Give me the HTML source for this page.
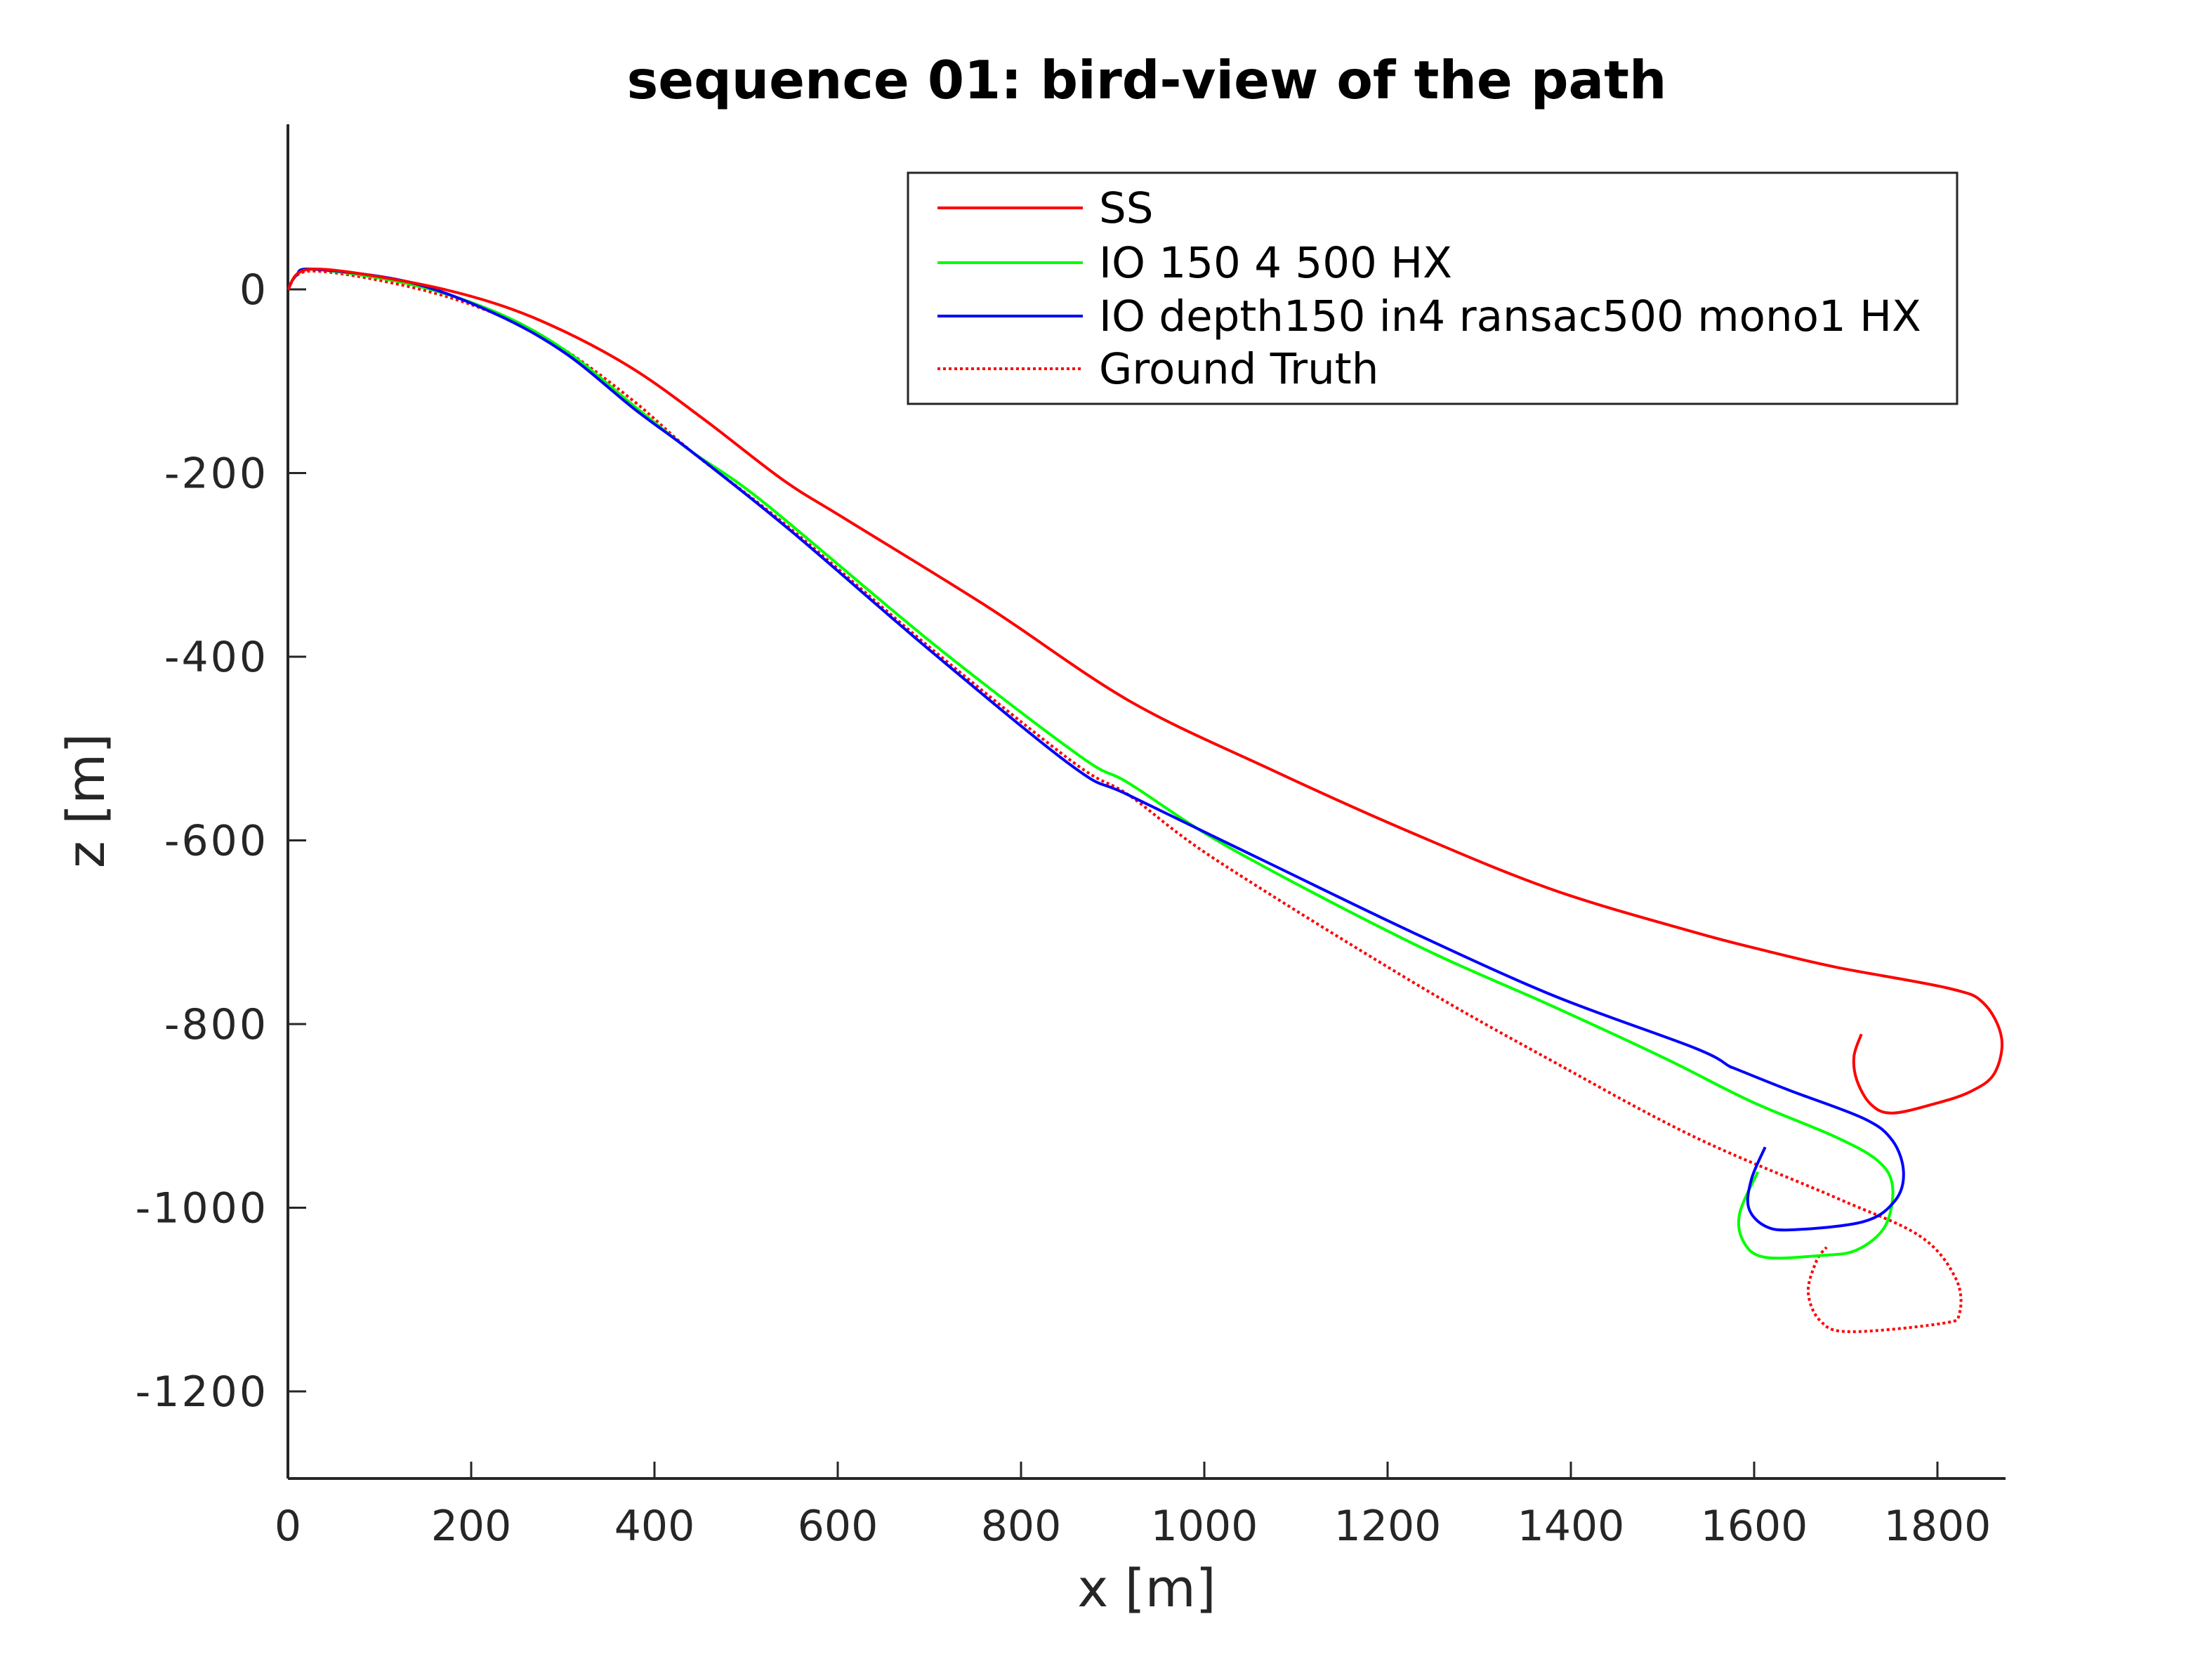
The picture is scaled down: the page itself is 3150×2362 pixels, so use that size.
<!DOCTYPE html>
<html><head><meta charset="utf-8"><style>
html,body{margin:0;padding:0;background:#fff;}
svg{display:block;font-family:"DejaVu Sans","Liberation Sans",sans-serif;}
</style></head><body>
<svg id="chart" width="3150" height="2362" viewBox="0 0 3150 2362" xmlns="http://www.w3.org/2000/svg">
<rect width="3150" height="2362" fill="#fff"/>
<text x="1633" y="140" font-size="75" font-weight="bold" text-anchor="middle" fill="#000">sequence 01: bird-view of the path</text>
<g id="axes"></g>
<g id="series"></g>
<g>
<rect x="1293" y="246" width="1494" height="329" fill="#fff" stroke="#262626" stroke-width="3"/>
<line x1="1335" y1="296" x2="1542" y2="296" stroke="#ff0000" stroke-width="4"/>
<text x="1565" y="317" font-size="61" fill="#000">SS</text>
<line x1="1335" y1="374" x2="1542" y2="374" stroke="#00ff00" stroke-width="4"/>
<text x="1565" y="395" font-size="61" fill="#000">IO 150 4 500 HX</text>
<line x1="1335" y1="450" x2="1542" y2="450" stroke="#0000ff" stroke-width="4"/>
<text x="1565" y="471" font-size="61" fill="#000">IO depth150 in4 ransac500 mono1 HX</text>
<line x1="1335" y1="525" x2="1542" y2="525" stroke="#ff0000" stroke-width="4" stroke-dasharray="4 4"/>
<text x="1565" y="546" font-size="61" fill="#000">Ground Truth</text>
</g>
</svg>
<script>
const xTicks=[0,200,400,600,800,1000,1200,1400,1600,1800];
const zTicks=[0,-200,-400,-600,-800,-1000,-1200];
const ssX=[0,25,132,225,302,379,456,541,610,764,918,1073,1227,1381,1535,1612,1689,1812,1850,1870,1862,1835,1796,1750,1727,1712,1709,1717];
const ssZ=[0,22,8,-15,-46,-88,-143,-208,-251,-346,-448,-523,-592,-654,-700,-720,-738,-761,-777,-815,-854,-874,-887,-897,-887,-861,-835,-811];
const ioX=[0,9,28,132,225,302,379,441,518,703,864,918,1026,1227,1381,1504,1596,1689,1735,1751,1743,1712,1673,1612,1589,1584,1604];
const ioZ=[0,15,22,6,-24,-66,-128,-177,-231,-385,-508,-538,-607,-712,-781,-838,-884,-923,-949,-977,-1020,-1046,-1052,-1054,-1038,-1007,-961];
const idX=[0,9,28,132,225,302,379,441,549,703,857,918,1073,1227,1381,1535,1573,1578,1638,1720,1751,1763,1754,1720,1643,1612,1594,1597,1612];
const idZ=[0,15,22,8,-26,-69,-131,-177,-263,-395,-520,-551,-626,-700,-769,-826,-846,-848,-872,-903,-927,-961,-992,-1015,-1024,-1020,-1000,-969,-934];
const gtX=[0,25,132,225,302,379,441,549,703,857,918,1011,1227,1381,1535,1689,1781,1820,1824,1805,1704,1672,1659,1668,1679];
const gtZ=[0,20,3,-26,-66,-123,-177,-261,-392,-515,-551,-620,-754,-841,-923,-989,-1031,-1077,-1115,-1126,-1135,-1123,-1092,-1058,-1043];

const X0=410,XS=(2759-410)/1800,Y0=412,YS=(1981-412)/1200;
function sx(v){return X0+v*XS;}
function sy(v){return Y0-v*YS;}
const NS='http://www.w3.org/2000/svg';
const axes=document.getElementById('axes');
function mk(tag,attrs,parent,txt){const e=document.createElementNS(NS,tag);for(const k in attrs)e.setAttribute(k,attrs[k]);if(txt!==undefined)e.textContent=txt;parent.appendChild(e);return e;}
const yl=mk('line',{x1:410,y1:177,x2:410,y2:2105,stroke:'#262626','stroke-width':4},axes);


const xl=mk('line',{x1:410,y1:2105,x2:2856,y2:2105,stroke:'#262626','stroke-width':4},axes);


xTicks.forEach(t=>{
  mk('line',{x1:sx(t),y1:2105,x2:sx(t),y2:2081,stroke:'#262626','stroke-width':3},axes);
  const tx=mk('text',{x:sx(t),y:2193,'font-size':60,'text-anchor':'middle',fill:'#262626'},axes,String(t));
  
  
});
zTicks.forEach(t=>{
  mk('line',{x1:410,y1:sy(t),x2:436,y2:sy(t),stroke:'#262626','stroke-width':3},axes);
  const tx=mk('text',{x:382,y:sy(t)+21,'font-size':60,'text-anchor':'end',fill:'#262626','letter-spacing':'3'},axes,String(t));
  
  
});
const xt=mk('text',{x:1633,y:2287,'font-size':74,'text-anchor':'middle',fill:'#262626'},axes,'x [m]');


const yt=mk('text',{x:0,y:0,'font-size':74,'text-anchor':'middle',fill:'#262626',transform:'translate(148,1140) rotate(-90)'},axes,'z [m]');



const ser=document.getElementById('series');
function line(xs,zs,color,dash,name){
  const P=xs.map((x,i)=>[sx(x),sy(zs[i])]);
  let d='M'+P[0][0].toFixed(1)+' '+P[0][1].toFixed(1);
  for(let i=0;i<P.length-1;i++){
    const p0=P[i-1]||P[i],p1=P[i],p2=P[i+1],p3=P[i+2]||P[i+1];
    const c1=[p1[0]+(p2[0]-p0[0])/6,p1[1]+(p2[1]-p0[1])/6];
    const c2=[p2[0]-(p3[0]-p1[0])/6,p2[1]-(p3[1]-p1[1])/6];
    d+='C'+c1[0].toFixed(1)+' '+c1[1].toFixed(1)+' '+c2[0].toFixed(1)+' '+c2[1].toFixed(1)+' '+p2[0].toFixed(1)+' '+p2[1].toFixed(1);
  }
  const p=mk('path',{d:d,fill:'none',stroke:color,'stroke-width':4,'stroke-linejoin':'round'},ser);
  if(dash)p.setAttribute('stroke-dasharray','4 4');
  
  
}
line(gtX,gtZ,'#ff0000',true,'ground-truth-line');
line(ioX,ioZ,'#00ff00',false,'io-150-line');
line(idX,idZ,'#0000ff',false,'io-depth-line');
line(ssX,ssZ,'#ff0000',false,'ss-line');
</script>
</body></html>
